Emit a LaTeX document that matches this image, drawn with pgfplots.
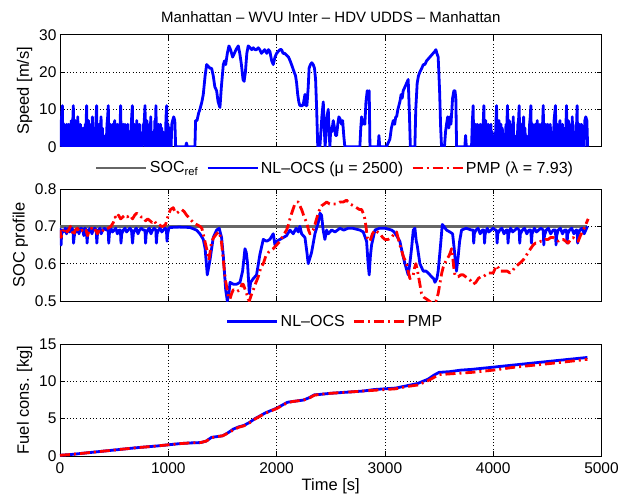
\documentclass[border=0pt]{standalone}
\usepackage{pgfplots}
\pgfplotsset{compat=1.18}
\usepackage{fontspec}
\setmainfont{Liberation Sans}
\definecolor{mblue}{RGB}{0,0,255}
\definecolor{mred}{RGB}{255,0,0}
\definecolor{mgray}{RGB}{102,102,102}
\pgfplotsset{
 myax/.style={
  scale only axis, width=541.5pt, height=112pt,
  xmin=0, xmax=5000, xtick={0,1000,2000,3000,4000,5000},
  scaled ticks=false,
  /pgf/number format/1000 sep={},
  /pgf/number format/assume math mode=true,
  grid=major,
  major grid style={black, line width=0.5pt, dash pattern=on 0.7pt off 2.6pt},
  tick align=inside, major tick length=5pt,
  axis line style={black, line width=0.8pt},
  every tick/.style={black, line width=0.6pt},
  tick label style={font=\fontsize{15.5}{17}\selectfont},
  xticklabel style={yshift=-3pt},
  label style={font=\fontsize{16.5}{18}\selectfont},
  xlabel style={yshift=1.5pt},
  legend style={draw=none, fill=none, font=\fontsize{16}{18}\selectfont, legend columns=-1,
    /tikz/every even column/.append style={column sep=6pt}},
  legend image code/.code={\draw[##1] (0pt,0pt) -- (50pt,0pt);},
  every axis title/.style={at={(0.5,1)}, anchor=base, yshift=12.6pt, font=\fontsize{15}{17}\selectfont},
 },
 bl/.style={color=mblue, line width=2.8pt, line join=round},
 rd/.style={color=mred, line width=2.8pt, line join=round, dash pattern=on 10pt off 4pt on 2pt off 4pt},
}
\begin{document}
\begin{tikzpicture}
% ---------------- top: speed
\begin{axis}[myax, at={(0,309.3pt)},
  ymin=0, ymax=30, ytick={0,10,20,30}, xticklabels={},
  ylabel={Speed [m/s]},
  title={Manhattan – WVU Inter – HDV UDDS – Manhattan}]
\addplot[bl] coordinates {
(0,0) (5,7) (10,3) (16,9) (22,11) (27,0) (33,4) (39,6) (45,0) (51,5) (57,2) (63,6) (69,0) (75,4) (81,6) (87,0) (93,5) (99,3) (105,7) (111,0) (117,6) (123,11) (128,0) (134,4) (140,7) (146,0) (152,5) (158,3) (164,8) (170,0) (176,5) (182,2) (188,6) (194,0) (200,4) (206,0) (212,5) (218,0) (226,0) (234,6) (240,5) (246,11) (251,0) (257,4) (263,7) (269,0) (275,5) (281,2) (287,6) (293,0) (299,8) (305,0) (311,3) (317,0) (325,0) (332,7) (338,11) (343,0) (349,5) (355,3) (361,6) (367,0) (373,4) (379,8) (385,0) (391,5) (397,0) (403,3) (409,0) (418,0) (426,0) (434,6) (440,8) (446,11) (451,0) (457,4) (463,6) (469,0) (475,5) (481,3) (487,6) (493,0) (499,4) (505,7) (511,0) (517,5) (523,2) (529,6) (535,0) (541,4) (548,0) (555,6) (560,11) (565,0) (571,5) (577,2) (583,6) (589,0) (595,4) (601,6) (607,0) (613,5) (619,0) (625,6) (631,0) (637,4) (644,0) (652,0) (660,7) (668,11) (673,0) (679,4) (685,6) (691,0) (697,5) (703,3) (709,7) (715,0) (721,4) (727,0) (733,6) (739,0) (745,3) (752,0) (760,0) (768,6) (774,5) (780,8) (785,11) (790,0) (796,4) (802,7) (808,0) (814,5) (820,3) (826,6) (832,0) (838,8) (844,0) (850,4) (856,0) (863,0) (870,0) (876,7) (881,5) (886,11) (891,0) (897,5) (903,3) (909,6) (915,0) (921,4) (927,6) (933,0) (939,5) (945,2) (951,4) (957,0) (964,0) (972,0) (979,8) (985,11) (990,0) (996,6) (1002,0) (1008,3) (1014,5) (1020,0) (1026,0) (1032,6) (1040,7) (1050,8) (1060,7) (1068,0)
(1100,0) (1160,0) (1168,1) (1176,0) (1246,0) (1252,7) (1265,7) (1280,9) (1292,10) (1310,12) (1323,14) (1340,19) (1354,22) (1370,21.5) (1385,21) (1400,21) (1415,19) (1430,16) (1446,15) (1460,12) (1477,10.5) (1490,16) (1508,22) (1520,23) (1530,22) (1545,25) (1560,27) (1575,26) (1594,24) (1610,25) (1625,26) (1646,27) (1660,25) (1675,22) (1690,18) (1700,17.5) (1712,20) (1725,25) (1738,27) (1755,26.5) (1770,26) (1785,26.5) (1800,26) (1815,26) (1831,26.5) (1845,26) (1860,25) (1875,25.5) (1890,26) (1910,25) (1925,26) (1938,25.5) (1955,23) (1969,22) (1985,24) (2000,25) (2015,25.5) (2030,26) (2046,26) (2060,25) (2075,25) (2092,24.5) (2110,24) (2125,23) (2138,22) (2150,21) (2162,20) (2175,19) (2185,17) (2195,14) (2205,12) (2215,11) (2228,11) (2240,11) (2250,12) (2262,14) (2270,11) (2280,11) (2292,16) (2300,21) (2312,22) (2325,22.5) (2338,22) (2350,21) (2360,18) (2370,10) (2380,0) (2400,0) (2418,8) (2431,12) (2440,5) (2448,0) (2455,3) (2465,8) (2477,10) (2485,4) (2492,0) (2500,5) (2510,4) (2523,7) (2535,5) (2545,3) (2554,3) (2565,6) (2575,8) (2585,7.5) (2600,6) (2610,7) (2620,3) (2630,0) (2646,0) (2700,0) (2769,0) (2777,5) (2785,8) (2795,6) (2805,7) (2815,6) (2825,12) (2837,15) (2848,14) (2855,15) (2862,0) (2900,0) (2938,0) (2945,3) (2952,0) (3015,0) (3030,1) (3046,2) (3060,5) (3077,7) (3090,6) (3100,8) (3108,8) (3120,10) (3138,12) (3150,14) (3160,13) (3169,15) (3185,16) (3200,17) (3215,18) (3225,10) (3235,0) (3255,0) (3277,0) (3285,10) (3298,17) (3310,19) (3323,20) (3340,21) (3355,22) (3369,22) (3385,23) (3400,23.5) (3415,24) (3430,24.5) (3445,25) (3460,25.5) (3471,26) (3480,25) (3492,24) (3505,15) (3515,5) (3523,0) (3550,0) (3560,4) (3569,6) (3580,8) (3590,5) (3600,8) (3610,6) (3625,13) (3637,15) (3647,15) (3655,13) (3662,0) (3700,0) (3738,0) (3745,3) (3752,0) (3790,0)
(3800,0) (3808,7) (3815,11) (3820,0) (3826,5) (3832,3) (3838,6) (3844,0) (3850,4) (3856,6) (3862,0) (3868,5) (3874,2) (3880,6) (3886,0) (3892,4) (3898,0) (3904,5) (3909,7) (3914,11) (3919,0) (3925,4) (3931,7) (3937,0) (3943,5) (3949,3) (3955,6) (3961,0) (3967,5) (3973,2) (3979,6) (3985,0) (3991,4) (3997,0) (4003,3) (4010,0) (4018,0) (4025,6) (4031,11) (4036,0) (4042,5) (4048,3) (4054,7) (4060,0) (4066,4) (4072,6) (4078,0) (4084,5) (4090,0) (4096,3) (4102,0) (4110,0) (4118,6) (4125,5) (4132,11) (4137,0) (4143,4) (4149,7) (4155,0) (4161,5) (4167,2) (4173,6) (4179,0) (4185,8) (4191,0) (4197,3) (4203,0) (4211,0) (4220,0) (4228,6) (4234,7) (4240,11) (4245,0) (4251,5) (4257,3) (4263,6) (4269,0) (4275,4) (4281,8) (4287,0) (4293,5) (4299,0) (4305,3) (4311,0) (4320,0) (4328,0) (4336,6) (4342,8) (4348,11) (4353,0) (4359,4) (4365,6) (4371,0) (4377,5) (4383,3) (4389,6) (4395,0) (4401,4) (4407,7) (4413,0) (4419,5) (4425,2) (4431,6) (4437,0) (4443,4) (4450,0) (4456,6) (4462,11) (4467,0) (4473,5) (4479,2) (4485,6) (4491,0) (4497,4) (4503,6) (4509,0) (4515,5) (4521,0) (4527,6) (4533,0) (4539,4) (4546,0) (4555,0) (4562,7) (4575,11) (4580,0) (4586,4) (4592,6) (4598,0) (4604,5) (4610,3) (4616,7) (4622,0) (4628,4) (4634,0) (4640,6) (4646,0) (4652,3) (4660,0) (4666,0) (4672,6) (4677,11) (4682,0) (4688,4) (4694,7) (4700,0) (4706,5) (4712,3) (4718,6) (4724,0) (4730,8) (4736,0) (4742,4) (4748,0) (4756,0) (4764,6) (4769,5) (4775,11) (4780,0) (4786,5) (4792,3) (4798,6) (4804,0) (4810,4) (4816,6) (4822,0) (4830,0) (4840,0) (4846,7) (4855,8) (4865,7) (4872,0)
};
\end{axis}
% ---------------- middle: SOC
\begin{axis}[myax, at={(0,155pt)},
  ymin=0.5, ymax=0.8, ytick={0.5,0.6,0.7,0.8}, xticklabels={},
  yticklabel style={/pgf/number format/fixed, /pgf/number format/precision=1},
  ylabel={SOC profile},
  legend style={at={(0.508,1.1875)}, anchor=center}]
\addplot[color=mgray, line width=2.8pt] coordinates {(0,0.7) (4870,0.7)};
\addlegendentry{SOC\textsubscript{ref}}
\addplot[bl] coordinates {
(0,0.695) (5,0.66) (10,0.65) (15,0.68) (22,0.69) (30,0.685) (40,0.69) (50,0.695) (60,0.68) (70,0.69) (80,0.695) (90,0.685) (100,0.69) (110,0.695) (120,0.69) (125,0.655) (130,0.67) (140,0.69) (150,0.685) (165,0.695) (175,0.68) (185,0.69) (195,0.695) (210,0.69) (220,0.675) (230,0.695) (245,0.69) (250,0.655) (256,0.68) (265,0.69) (280,0.695) (295,0.68) (305,0.69) (320,0.695) (335,0.69) (340,0.655) (346,0.68) (355,0.69) (370,0.695) (380,0.68) (395,0.69) (410,0.695) (430,0.69) (445,0.69) (450,0.655) (456,0.68) (470,0.695) (485,0.685) (500,0.69) (515,0.695) (530,0.68) (545,0.69) (558,0.69) (563,0.655) (570,0.68) (585,0.69) (600,0.695) (615,0.685) (630,0.69) (645,0.695) (660,0.69) (670,0.655) (677,0.68) (690,0.69) (705,0.695) (720,0.68) (735,0.69) (750,0.695) (770,0.69) (785,0.69) (790,0.655) (796,0.68) (810,0.69) (825,0.695) (840,0.68) (855,0.69) (870,0.695) (885,0.69) (890,0.655) (896,0.68) (910,0.69) (925,0.695) (940,0.685) (955,0.69) (970,0.695) (983,0.69) (988,0.66) (994,0.68) (1005,0.695) (1020,0.697) (1100,0.698) (1200,0.697) (1260,0.69)
(1292,0.68) (1323,0.665) (1340,0.64) (1360,0.57) (1385,0.61) (1415,0.67) (1446,0.69) (1470,0.695) (1492,0.67) (1508,0.62) (1530,0.53) (1545,0.50) (1560,0.52) (1570,0.55) (1600,0.545) (1631,0.545) (1662,0.55) (1686,0.58) (1708,0.64) (1720,0.63) (1732,0.60) (1748,0.52) (1760,0.55) (1785,0.56) (1815,0.57) (1846,0.625) (1877,0.665) (1908,0.66) (1938,0.665) (1969,0.68) (1985,0.65) (2000,0.66) (2031,0.665) (2062,0.67) (2092,0.675) (2123,0.69) (2154,0.68) (2180,0.695) (2200,0.685) (2215,0.70) (2231,0.68) (2262,0.67) (2280,0.63) (2292,0.60) (2323,0.63) (2354,0.68) (2385,0.71) (2400,0.735) (2415,0.73) (2430,0.69) (2446,0.665) (2462,0.69) (2477,0.68) (2508,0.69) (2540,0.685) (2585,0.695) (2620,0.69) (2662,0.695) (2700,0.695) (2769,0.69) (2800,0.685) (2831,0.66) (2845,0.60) (2855,0.57) (2866,0.62) (2877,0.65) (2908,0.69) (2950,0.695) (3000,0.695) (3062,0.69) (3085,0.685) (3108,0.675) (3138,0.66) (3160,0.63) (3185,0.60) (3215,0.57) (3230,0.60) (3246,0.64) (3262,0.69) (3277,0.695) (3290,0.66) (3298,0.65) (3323,0.60) (3354,0.58) (3380,0.58) (3400,0.575) (3431,0.565) (3450,0.56) (3462,0.55) (3480,0.56) (3492,0.58) (3514,0.65) (3530,0.705) (3545,0.70) (3569,0.69) (3600,0.685) (3625,0.68) (3640,0.64) (3646,0.62) (3661,0.58) (3677,0.62) (3690,0.66) (3708,0.69) (3750,0.695) (3800,0.69)
(3815,0.69) (3820,0.655) (3826,0.68) (3840,0.69) (3860,0.695) (3880,0.68) (3900,0.69) (3915,0.69) (3920,0.655) (3926,0.68) (3945,0.695) (3960,0.685) (3980,0.69) (4000,0.695) (4020,0.69) (4031,0.69) (4036,0.655) (4042,0.68) (4060,0.69) (4080,0.695) (4100,0.68) (4120,0.69) (4132,0.69) (4137,0.655) (4143,0.68) (4160,0.695) (4180,0.685) (4200,0.69) (4220,0.695) (4240,0.69) (4245,0.655) (4251,0.68) (4270,0.69) (4290,0.695) (4310,0.68) (4330,0.69) (4348,0.69) (4353,0.655) (4359,0.68) (4380,0.695) (4400,0.685) (4420,0.69) (4440,0.695) (4462,0.69) (4467,0.65) (4473,0.675) (4490,0.69) (4510,0.695) (4530,0.68) (4555,0.69) (4575,0.69) (4580,0.65) (4586,0.675) (4600,0.69) (4620,0.695) (4640,0.68) (4660,0.69) (4677,0.69) (4682,0.655) (4688,0.68) (4705,0.69) (4725,0.695) (4745,0.68) (4765,0.69) (4775,0.69) (4780,0.655) (4786,0.68) (4800,0.69) (4820,0.695) (4840,0.68) (4855,0.69) (4870,0.70)
};
\addlegendentry{NL–OCS (μ = 2500)}
\addplot[rd] coordinates {
(0,0.69) (10,0.67) (20,0.68) (35,0.69) (50,0.695) (65,0.685) (80,0.69) (95,0.70) (110,0.69) (125,0.675) (140,0.69) (160,0.695) (180,0.685) (200,0.69) (220,0.685) (240,0.69) (255,0.675) (270,0.69) (290,0.695) (310,0.685) (330,0.69) (345,0.68) (365,0.69) (385,0.685) (400,0.69) (420,0.695) (446,0.695) (470,0.70) (492,0.71) (510,0.725) (523,0.72) (540,0.73) (560,0.72) (580,0.725) (600,0.73) (620,0.725) (646,0.73) (670,0.72) (690,0.73) (708,0.735) (730,0.73) (750,0.725) (769,0.725) (790,0.715) (810,0.72) (831,0.715) (850,0.71) (870,0.715) (892,0.705) (915,0.705) (935,0.70) (954,0.70) (975,0.705) (990,0.72) (1000,0.73) (1020,0.745) (1046,0.75) (1060,0.74) (1077,0.735) (1100,0.74) (1123,0.745) (1145,0.74) (1169,0.73) (1200,0.72) (1231,0.71) (1260,0.705) (1292,0.70) (1310,0.695) (1330,0.67) (1354,0.64) (1375,0.61) (1385,0.63) (1400,0.66) (1420,0.67) (1446,0.68) (1470,0.685) (1490,0.66) (1508,0.61) (1525,0.56) (1538,0.54) (1555,0.51) (1569,0.505) (1585,0.52) (1600,0.53) (1630,0.525) (1662,0.53) (1680,0.545) (1692,0.545) (1710,0.53) (1723,0.52) (1738,0.505) (1748,0.50) (1765,0.515) (1785,0.53) (1810,0.55) (1831,0.565) (1855,0.59) (1877,0.60) (1900,0.62) (1923,0.63) (1945,0.635) (1969,0.64) (2000,0.65) (2031,0.66) (2060,0.675) (2092,0.69) (2110,0.705) (2123,0.72) (2145,0.74) (2169,0.76) (2185,0.765) (2200,0.765) (2215,0.755) (2231,0.745) (2255,0.725) (2277,0.71) (2295,0.69) (2308,0.68) (2323,0.685) (2338,0.69) (2354,0.705) (2369,0.72) (2390,0.74) (2415,0.755) (2440,0.76) (2462,0.765) (2490,0.76) (2523,0.76) (2554,0.76) (2585,0.765) (2615,0.765) (2646,0.77) (2677,0.76) (2710,0.755) (2738,0.75) (2765,0.745) (2785,0.745) (2800,0.735) (2815,0.72) (2825,0.70) (2837,0.67) (2850,0.665) (2862,0.66) (2885,0.68) (2908,0.69) (2930,0.685) (2954,0.68) (2980,0.67) (3000,0.665) (3030,0.665) (3062,0.67) (3085,0.68) (3108,0.685) (3125,0.665) (3138,0.65) (3155,0.635) (3169,0.62) (3185,0.61) (3200,0.60) (3215,0.58) (3231,0.56) (3250,0.565) (3262,0.57) (3275,0.59) (3286,0.60) (3298,0.585) (3308,0.57) (3323,0.545) (3338,0.52) (3360,0.51) (3385,0.505) (3410,0.50) (3431,0.495) (3455,0.50) (3471,0.50) (3492,0.52) (3510,0.55) (3525,0.575) (3538,0.59) (3550,0.60) (3569,0.61) (3590,0.62) (3605,0.63) (3615,0.64) (3625,0.62) (3636,0.59) (3646,0.57) (3660,0.565) (3677,0.565) (3700,0.57) (3723,0.57) (3745,0.565) (3769,0.56) (3790,0.555) (3815,0.545) (3840,0.55) (3862,0.56) (3885,0.565) (3908,0.565) (3930,0.57) (3954,0.575) (3980,0.575) (4000,0.575) (4015,0.585) (4031,0.595) (4045,0.59) (4062,0.58) (4085,0.58) (4108,0.58) (4130,0.58) (4154,0.575) (4175,0.58) (4200,0.59) (4220,0.595) (4240,0.60) (4260,0.605) (4277,0.61) (4300,0.62) (4323,0.63) (4345,0.64) (4369,0.65) (4390,0.655) (4415,0.655) (4440,0.66) (4462,0.66) (4485,0.665) (4508,0.665) (4530,0.67) (4554,0.67) (4578,0.665) (4600,0.66) (4623,0.665) (4646,0.665) (4670,0.66) (4692,0.655) (4715,0.665) (4738,0.67) (4760,0.665) (4785,0.66) (4805,0.675) (4831,0.69) (4850,0.70) (4862,0.71) (4877,0.72)
};
\addlegendentry{PMP (λ = 7.93)}
\end{axis}
% ---------------- bottom: fuel
\begin{axis}[myax, at={(0,0)},
  ymin=0, ymax=15, ytick={0,5,10,15},
  ylabel={Fuel cons. [kg]}, xlabel={Time [s]},
  legend style={at={(0.508,1.199)}, anchor=center}]
\addplot[bl] coordinates {
(0,0.1) (100,0.2) (300,0.5) (500,0.8) (700,1.1) (900,1.35) (1000,1.5) (1100,1.65) (1200,1.75) (1300,1.8) (1350,2.0) (1400,2.5) (1450,2.6) (1500,2.7) (1550,3.1) (1600,3.6) (1650,3.9) (1700,4.1) (1750,4.5) (1800,5.0) (1850,5.4) (1900,5.8) (1950,6.1) (2000,6.4) (2050,6.8) (2100,7.2) (2150,7.3) (2200,7.4) (2250,7.5) (2300,7.8) (2350,8.2) (2400,8.25) (2500,8.4) (2600,8.5) (2700,8.6) (2800,8.7) (2900,8.9) (3000,9.0) (3100,9.1) (3200,9.4) (3300,9.7) (3400,10.3) (3450,10.8) (3500,11.2) (3600,11.3) (3700,11.5) (3800,11.6) (4000,11.9) (4200,12.2) (4400,12.5) (4600,12.8) (4870,13.2)
};
\addlegendentry{NL–OCS}
\addplot[rd] coordinates {
(0,0.1) (100,0.2) (300,0.5) (500,0.8) (700,1.1) (900,1.35) (1000,1.5) (1100,1.65) (1200,1.75) (1300,1.8) (1350,2.0) (1400,2.45) (1450,2.6) (1500,2.7) (1550,3.05) (1600,3.5) (1650,3.85) (1700,4.05) (1750,4.45) (1800,4.95) (1850,5.35) (1900,5.75) (1950,6.05) (2000,6.35) (2050,6.75) (2100,7.15) (2150,7.3) (2200,7.4) (2250,7.5) (2300,7.75) (2350,8.15) (2400,8.25) (2500,8.4) (2600,8.5) (2700,8.6) (2800,8.7) (2900,8.8) (3000,8.9) (3100,9.0) (3200,9.3) (3300,9.5) (3400,10.1) (3450,10.5) (3500,10.9) (3600,11.0) (3700,11.1) (3800,11.2) (4000,11.5) (4200,11.9) (4400,12.2) (4600,12.5) (4870,12.95)
};
\addlegendentry{PMP}
\end{axis}
\pgfresetboundingbox
\path (-60pt,-40pt) rectangle (561pt,456pt);
\end{tikzpicture}
\end{document}
